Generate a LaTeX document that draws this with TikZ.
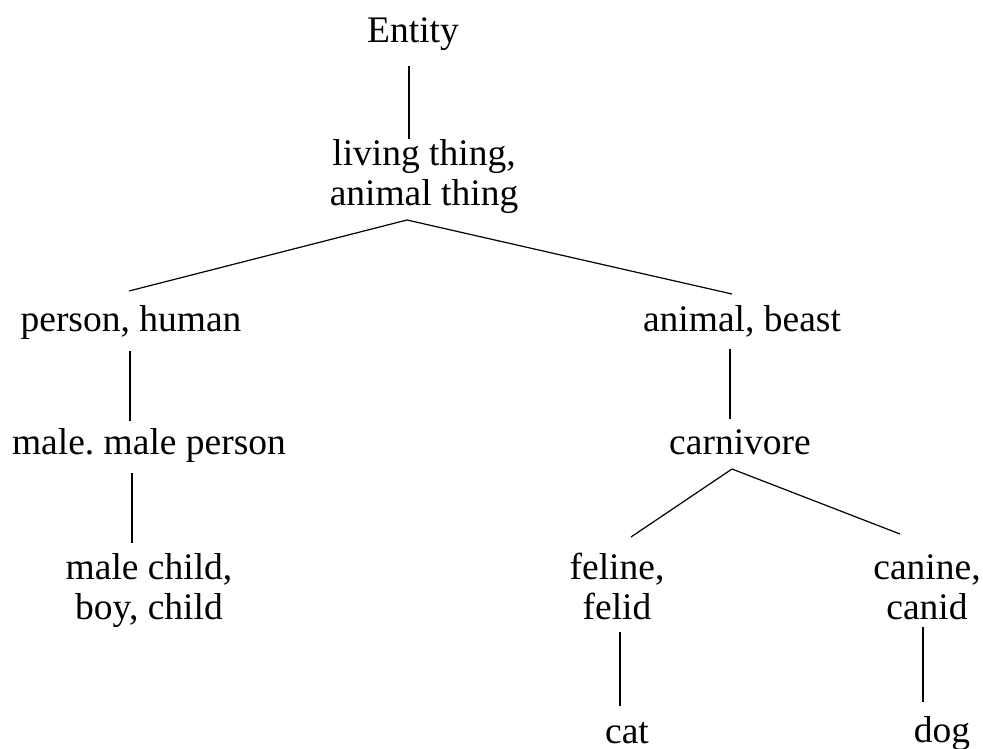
\documentclass[tikz,border=0pt]{standalone}
\usepackage{fontspec}
\setmainfont{Liberation Serif}
\usetikzlibrary{calc}
\begin{document}
\begin{tikzpicture}[x=1pt,y=-1pt,
  term/.style={anchor=base,inner sep=0pt,align=center,
    font=\fontsize{37.5pt}{40pt}\selectfont\frenchspacing},
  link/.style={line width=1.2pt,black}]
  \fill[white] (0,0) rectangle (983,749);
  \useasboundingbox (0,0) rectangle (983,749);

  % taxonomy terms, placed on their (last-line) baselines
  \node[term] (entity)    at (413,43)  {Entity};
  \node[term] (living)    at (424,205) {living thing,\\animal thing};
  \node[term] (person)    at (131,331) {person, human};
  \node[term] (animal)    at (742,331) {animal, beast};
  \node[term] (male)      at (149,454) {male. male person};
  \node[term] (carnivore) at (740,454) {carnivore};
  \node[term] (boy)       at (149,619) {male child,\\boy, child};
  \node[term] (feline)    at (617,619) {feline,\\felid};
  \node[term] (canine)    at (927,619) {canine,\\canid};
  \node[term] (cat)       at (627,743) {cat};
  \node[term] (dog)       at (942,742) {dog};

  % hypernym links
  \draw[link] ($(entity.base)+(-4,23)$) -- ($(living.base)+(-15,-66)$);
  \coordinate (lt) at ($(living.base)+(-17,15)$);
  \draw[link] (lt) -- ($(person.base)+(-2,-40)$);
  \draw[link] (lt) -- ($(animal.base)+(-10,-37)$);
  \draw[link] ($(person.base)+(-1,20)$) -- ($(male.base)+(-19,-33)$);
  \draw[link] ($(animal.base)+(-12,18)$) -- ($(carnivore.base)+(-10,-35)$);
  \draw[link] ($(male.base)+(-17,19)$) -- ($(boy.base)+(-17,-76)$);
  \coordinate (ct) at ($(carnivore.base)+(-8,15)$);
  \draw[link] (ct) -- ($(feline.base)+(14,-82)$);
  \draw[link] (ct) -- ($(canine.base)+(-27,-85)$);
  \draw[link] ($(feline.base)+(3,13)$) -- ($(cat.base)+(-7,-37)$);
  \draw[link] ($(canine.base)+(-4,8)$) -- ($(dog.base)+(-19,-40)$);
\end{tikzpicture}
\end{document}
